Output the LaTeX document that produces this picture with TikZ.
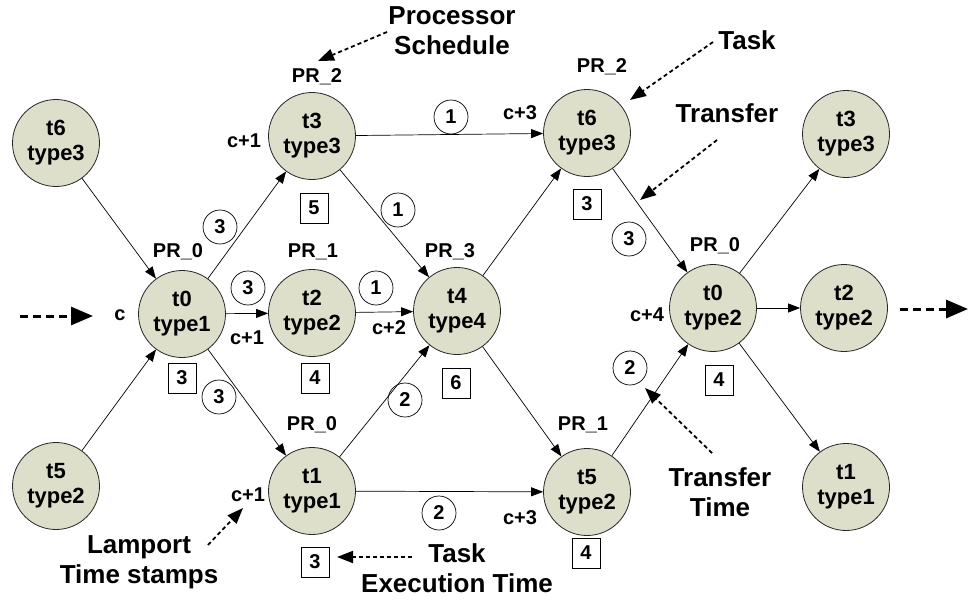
\documentclass[tikz,border=0pt]{standalone}
\usepackage{fontspec}
\setmainfont{Liberation Sans}
\usetikzlibrary{arrows.meta}
\definecolor{taskfill}{RGB}{221,223,203}
\begin{document}
\begin{tikzpicture}[x=1pt,y=-1pt,
  task/.style={circle,draw=black!85,line width=0.8pt,fill=taskfill,minimum size=87pt,
    inner sep=0pt,align=center,font=\fontsize{22}{25}\selectfont\bfseries},
  lbl/.style={font=\fontsize{20}{22}\selectfont\bfseries,inner sep=0pt},
  xfer/.style={circle,draw,line width=0.7pt,minimum size=34pt,inner sep=0pt,
    font=\fontsize{20}{22}\selectfont\bfseries},
  exec/.style={draw,line width=0.7pt,minimum width=28pt,minimum height=30pt,inner sep=0pt,
    font=\fontsize{20}{22}\selectfont\bfseries},
  note/.style={font=\fontsize{26}{30}\selectfont\bfseries,align=center,inner sep=0pt},
  edge/.style={-{Triangle[length=12pt,width=9pt]},line width=0.7pt},
  pointer/.style={-{Triangle[length=16pt,width=12pt]},line width=1.8pt,dash pattern=on 4pt off 3pt},
  flow/.style={-{Triangle[length=22pt,width=18pt]},line width=3pt,dash pattern=on 8pt off 5pt},
]
\useasboundingbox (0,0) rectangle (968,600);

% tasks
\node[task] (t6L) at (56,143) {t6\\type3};
\node[task] (t5L) at (56,486) {t5\\type2};
\node[task] (t0)  at (182,314) {t0\\type1};
\node[task] (t3)  at (312,136) {t3\\type3};
\node[task] (t2)  at (312,313) {t2\\type2};
\node[task] (t1)  at (312,491) {t1\\type1};
\node[task] (t4)  at (457,311) {t4\\type4};
\node[task] (t6M) at (587,133) {t6\\type3};
\node[task] (t5M) at (587,492) {t5\\type2};
\node[task] (t0R) at (713,308) {t0\\type2};
\node[task] (t3R) at (846,134) {t3\\type3};
\node[task] (t2R) at (844,308) {t2\\type2};
\node[task] (t1R) at (846,487) {t1\\type1};

% dependencies
\draw[edge] (t6L) -- (t0);
\draw[edge] (t5L) -- (t0);
\draw[edge] (t0) -- (t3);
\draw[edge] (t0) -- (t2);
\draw[edge] (t0) -- (t1);
\draw[edge] (t3) -- (t6M);
\draw[edge] (t3) -- (t4);
\draw[edge] (t2) -- (t4);
\draw[edge] (t1) -- (t4);
\draw[edge] (t1) -- (t5M);
\draw[edge] (t4) -- (t6M);
\draw[edge] (t4) -- (t5M);
\draw[edge] (t6M) -- (t0R);
\draw[edge] (t5M) -- (t0R);
\draw[edge] (t0R) -- (t3R);
\draw[edge] (t0R) -- (t2R);
\draw[edge] (t0R) -- (t1R);

% processor labels
\node[lbl] (pr-t3)  at (317,77)  {PR\_2};
\node[lbl] (pr-t0)  at (178,252) {PR\_0};
\node[lbl] (pr-t2)  at (313,252) {PR\_1};
\node[lbl] (pr-t4)  at (450,252) {PR\_3};
\node[lbl] (pr-t6M) at (602,67)  {PR\_2};
\node[lbl] (pr-t0R) at (715,246) {PR\_0};
\node[lbl] (pr-t5M) at (583,425) {PR\_1};
\node[lbl] (pr-t1)  at (312,425) {PR\_0};

% Lamport time stamps
\node[lbl] (ts-t0)  at (120,315) {c};
\node[lbl] (ts-t3)  at (244,141) {c+1};
\node[lbl] (ts-t2)  at (247,338) {c+1};
\node[lbl] (ts-t1)  at (248,495) {c+1};
\node[lbl] (ts-t4)  at (389,328) {c+2};
\node[lbl] (ts-t6M) at (520,113) {c+3};
\node[lbl] (ts-t5M) at (520,518) {c+3};
\node[lbl] (ts-t0R) at (647,315) {c+4};

% transfer times
\node[xfer] (x03) at (220,227) {3};
\node[xfer] (x02) at (248,288) {3};
\node[xfer] (x01) at (219,397) {3};
\node[xfer] (x36) at (451,117) {1};
\node[xfer] (x34) at (398,210) {1};
\node[xfer] (x24) at (376,288) {1};
\node[xfer] (x14) at (405,400) {2};
\node[xfer] (x15) at (439,513) {2};
\node[xfer] (x60) at (629,239) {3};
\node[xfer] (x50) at (630,368) {2};

% execution times
\node[exec] (e0)  at (182,378) {3};
\node[exec] (e2)  at (315,378) {4};
\node[exec] (e3)  at (314,208) {5};
\node[exec] (e4)  at (456,383) {6};
\node[exec] (e6M) at (587,204) {3};
\node[exec] (e0R) at (719,380) {4};
\node[exec] (e5M) at (586,553) {4};
\node[exec] (e1)  at (315,562) {3};

% annotations
\node[note] (n-ps)   at (452,31)  {Processor\\Schedule};
\node[note] (n-task) at (747,40)  {Task};
\node[note] (n-tr)   at (727,113) {Transfer};
\node[note] (n-tt)   at (720,492) {Transfer\\Time};
\node[note] (n-et)   at (457,568) {Task\\Execution Time};
\node[note] (n-lt)   at (139,562) {Lamport\\Time stamps};

\coordinate (ps-a) at (387,32);  \coordinate (ps-b) at (318,61);
\coordinate (tk-a) at (713,42);  \coordinate (tk-b) at (630,100);
\coordinate (tr-a) at (717,140); \coordinate (tr-b) at (640,200);
\coordinate (tt-a) at (712,453); \coordinate (tt-b) at (645,388);
\coordinate (et-a) at (412,557); \coordinate (et-b) at (337,557);
\coordinate (lt-a) at (208,545); \coordinate (lt-b) at (243,508);
\draw[pointer] (ps-a) -- (ps-b);
\draw[pointer] (tk-a) -- (tk-b);
\draw[pointer] (tr-a) -- (tr-b);
\draw[pointer] (tt-a) -- (tt-b);
\draw[pointer] (et-a) -- (et-b);
\draw[pointer] (lt-a) -- (lt-b);

% continuation of the schedule
\coordinate (in-a) at (20,316);  \coordinate (in-b) at (93,316);
\coordinate (out-a) at (900,309); \coordinate (out-b) at (968,309);
\draw[flow] (in-a) -- (in-b);
\draw[flow] (out-a) -- (out-b);
\end{tikzpicture}
\end{document}
